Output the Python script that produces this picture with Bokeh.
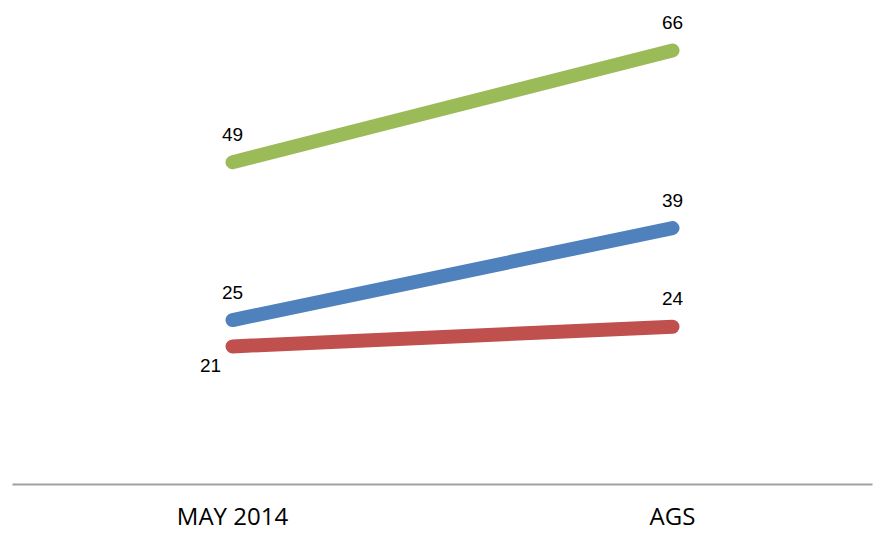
from bokeh.plotting import figure
from bokeh.models import Range1d, FixedTicker, ColumnDataSource
from bokeh.core.properties import value
from bokeh.embed import file_html
from bokeh.resources import INLINE

categories = ["MAY 2014", "AGS"]
green_vals = [49, 66]
blue_vals = [25, 39]
red_vals = [21, 24]

series = [
    (green_vals, "#9BBB59"),
    (blue_vals, "#4F81BD"),
    (red_vals, "#C0504D"),
]

xs = list(range(len(categories)))

p = figure(width=874, height=534, output_backend="svg", toolbar_location=None,
           x_range=Range1d(-0.5, 1.4545), y_range=Range1d(0, 73.6),
           min_border_left=12, min_border_right=2, min_border_top=0, min_border_bottom=48)
p.outline_line_color = None
p.xgrid.visible = False
p.ygrid.visible = False
p.yaxis.visible = False
p.background_fill_color = "white"
p.border_fill_color = "white"

ax = p.xaxis[0]
ax.ticker = FixedTicker(ticks=xs)
ax.major_label_overrides = {i: c for i, c in enumerate(categories)}
ax.major_tick_line_color = None
ax.minor_tick_line_color = None
ax.major_tick_out = 0
ax.major_tick_in = 0
ax.axis_line_color = "#A0A0A0"
ax.axis_line_width = 2
ax.major_label_text_font = "Open Sans"
ax.major_label_text_font_size = "24px"
ax.major_label_text_color = "#000000"
ax.major_label_standoff = 14

for vals, color in series:
    p.line(xs, vals, line_width=14, line_color=color, line_cap="round")

# data labels
lx, ly, lt, xo, yo = [], [], [], [], []
for vals, color in series:
    for i, v in enumerate(vals):
        lx.append(xs[i]); ly.append(v); lt.append(str(v))
        if vals is red_vals and i == 0:
            xo.append(-22); yo.append(19)
        else:
            xo.append(0); yo.append(-28)
src = ColumnDataSource(dict(x=lx, y=ly, t=lt, xo=xo, yo=yo))
p.text(x="x", y="y", text="t", x_offset="xo", y_offset="yo", source=src,
       text_font=value("Liberation Sans"), text_font_size="19px",
       text_align="center", text_baseline="alphabetic", text_color="#000000")

open("out.html", "w").write(file_html(p, INLINE))
